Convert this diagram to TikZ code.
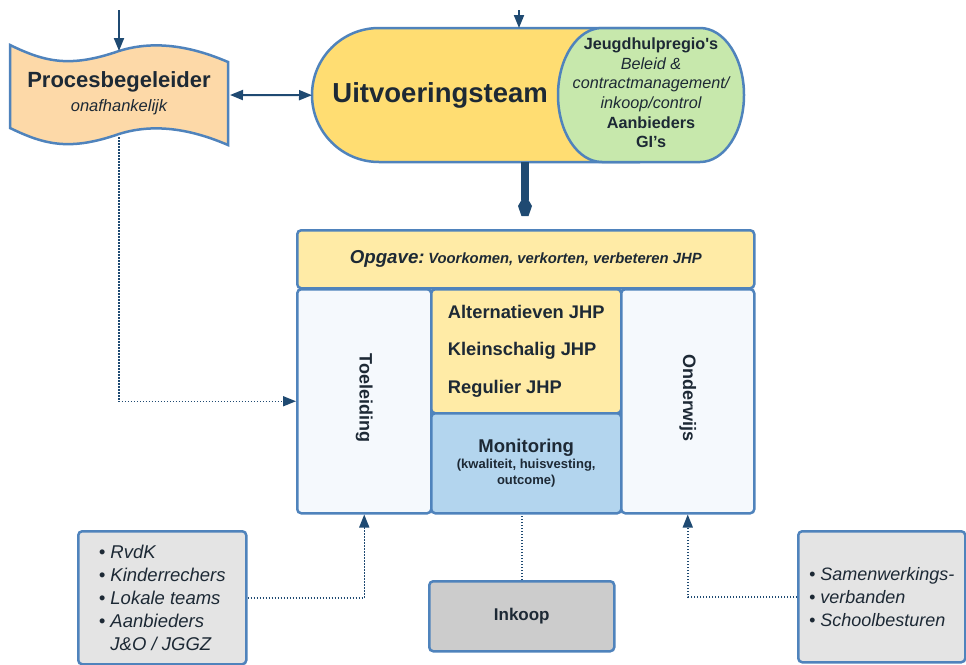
\documentclass[tikz,border=0pt]{standalone}
\usepackage{fontspec}
\setmainfont{Liberation Sans}
\usetikzlibrary{positioning}
\usetikzlibrary{calc}
\usepgflibrary{arrows.meta}
\usepackage{xcolor}

\definecolor{edge}{HTML}{4F83BC}
\definecolor{link}{HTML}{1F4A72}
\definecolor{ink}{HTML}{1D2935}
\definecolor{peach}{HTML}{FDD9A8}
\definecolor{gold}{HTML}{FFDD72}
\definecolor{leaf}{HTML}{C7E8AC}
\definecolor{cream}{HTML}{FFEBA6}
\definecolor{frost}{HTML}{F5F9FD}
\definecolor{sky}{HTML}{B3D5EE}
\definecolor{fog}{HTML}{E4E4E4}
\definecolor{stone}{HTML}{CCCCCC}

\newcommand{\fs}[2]{\fontsize{#1}{#2}\selectfont}

\begin{document}
\begin{tikzpicture}[x=1pt, y=-1pt, text=ink,
    box/.style={draw=edge, line width=2.5pt, rounded corners=4pt, inner sep=0pt, anchor=north west},
    flow/.style={draw=link, line width=2pt},
    hint/.style={draw=link, line width=1.5pt, dash pattern=on 1.5pt off 1.5pt},
    headed/.style={-{Triangle[length=13pt, width=10pt]}},
    twoheaded/.style={{Triangle[length=13pt, width=10pt]}-{Triangle[length=13pt, width=10pt]}}]
    \useasboundingbox (0,0) rectangle (966,664);

    % procesbegeleider
    \path[draw=edge, fill=peach, line width=2.5pt]
      (10,45) .. controls (45,62) and (70,68) .. (119,51)
              .. controls (160,38) and (200,50) .. (228,62)
      -- (228,145)
              .. controls (200,133) and (160,121) .. (119,134)
              .. controls (70,151) and (45,145) .. (10,128) -- cycle;
    \node[align=center, font=\fs{16.5}{24}] (guide) at (119,93)
      {{\fs{22}{24}\bfseries Procesbegeleider}\\{\itshape onafhankelijk}};
    \coordinate (guide in) at (119,51);
    \coordinate (guide out) at (119,137);
    \coordinate (guide side) at (230,95);

    % uitvoeringsteam
    \path[draw=edge, fill=gold, line width=2.5pt]
      (640,28) -- (379,28) arc[start angle=-90, end angle=-270, radius=67] -- (640,162);
    \node[anchor=north west, minimum width=256, minimum height=134, inner sep=0pt,
      font=\fs{27.5}{32}\bfseries] (team) at (312,28) {Uitvoeringsteam};
    \path[draw=edge, fill=leaf, line width=2.5pt]
      (602,28) -- (700,28) arc[start angle=-90, end angle=90, x radius=44, y radius=67]
      -- (602,162) arc[start angle=90, end angle=270, x radius=44, y radius=67] -- cycle;
    \node[align=center, font=\fs{16.2}{19.6}] (regio) at (651,93)
      {{\bfseries Jeugdhulpregio\textquotesingle s}\\{\itshape Beleid \&}\\
       {\itshape contractmanagement/}\\{\itshape inkoop/control}\\
       {\bfseries Aanbieders}\\{\bfseries GI’s}};

    % kern
    \node[box, fill=cream, minimum width=457, minimum height=58,
      font=\bfseries\itshape] (opgave) at (296,229)
      {{\fs{18.7}{20}Opgave:} \fs{14.8}{16}Voorkomen, verkorten, verbeteren JHP};
    \node[box, fill=frost, minimum width=134, minimum height=224] (toel) at (296,288) {};
    \node[rotate=-90, font=\fs{18}{20}\bfseries] (toel label) at ($(toel.center)+(0,-3)$) {Toeleiding};
    \node[box, fill=cream, minimum width=190, minimum height=124, align=left,
      font=\fs{18.3}{37.5}\bfseries] (jhp) at (430,288)
      {Alternatieven JHP\\Kleinschalig JHP\\Regulier JHP};
    \node[box, fill=sky, minimum width=190, minimum height=100, align=center,
      font=\fs{13}{16}\bfseries] (monitoring) at (430,412)
      {{\fs{18.5}{20}Monitoring}\\(kwaliteit, huisvesting,\\outcome)};
    \node[box, fill=frost, minimum width=133, minimum height=224] (onderwijs) at (620,288) {};
    \node[rotate=-90, font=\fs{18}{20}\bfseries] (onderwijs label) at ($(onderwijs.center)+(0,-3)$) {Onderwijs};

    % onderkant
    \node[box, fill=fog, minimum width=168, minimum height=133, align=left,
      font=\fs{18.5}{23}\itshape] (agencies) at (77,530)
      {\textbullet\ RvdK\\\textbullet\ Kinderrechers\\\textbullet\ Lokale teams\\
       \textbullet\ Aanbieders\\\hphantom{\textbullet\ }J\&O / JGGZ};
    \node[box, fill=stone, minimum width=185, minimum height=70,
      font=\fs{17}{19}\bfseries] (inkoop) at (428,580) {Inkoop};
    \node[box, fill=fog, minimum width=167, minimum height=131, align=left,
      font=\fs{18}{23}\itshape] (schools) at (797,530)
      {\textbullet\ Samenwerkings-\\\textbullet\ verbanden\\\textbullet\ Schoolbesturen};

    % verbindingen
    \coordinate (feed) at (119,10);
    \coordinate (intake) at (519,10);
    \coordinate (handoff) at (525,200);
    \path[flow, headed] (feed) -- (guide in);
    \path[flow, headed] (intake) -- (intake |- team.north);
    \path[flow, twoheaded] (guide side) -- (team.west);
    \path[draw=link, line width=8pt] (handoff |- team.south) -- (handoff);
    \path[fill=link] (handoff) ++(-3.5,0) -- ++(-3.5,6) -- ++(3.5,10) -- ++(7,0)
      -- ++(3.5,-10) -- ++(-3.5,-6) -- cycle;
    \path[hint, headed] (guide out) |- (toel.west);
    \path[hint, headed] (agencies.east) -| (toel.south);
    \path[hint, headed] (schools.west) -| (onderwijs.south);
    \path[hint] (inkoop.north) -- (inkoop.north |- monitoring.south);
  \end{tikzpicture}
\end{document}
